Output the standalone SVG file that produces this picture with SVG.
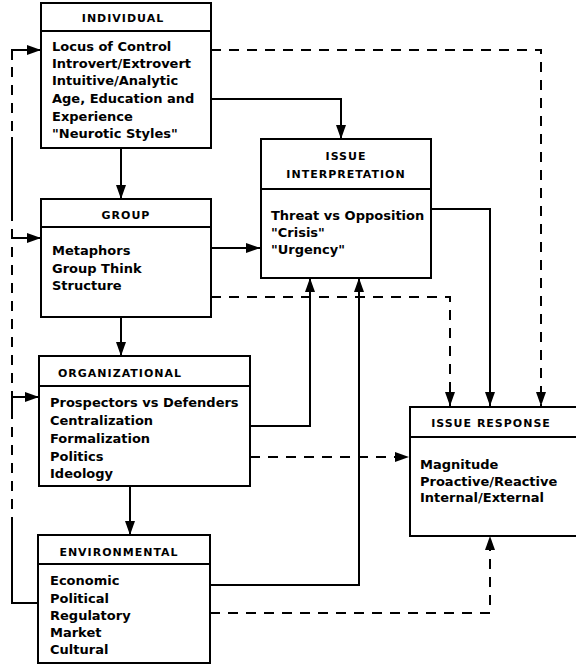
<svg xmlns="http://www.w3.org/2000/svg" width="576" height="665" viewBox="0 0 576 665">
<style>
.box{fill:#fff;stroke:#000;stroke-width:2}
.div{stroke:#000;stroke-width:2}
.hd{font-family:"DejaVu Sans",sans-serif;font-weight:bold;font-size:11px;letter-spacing:1px;text-anchor:middle;fill:#000}
.tx{font-family:"DejaVu Sans",sans-serif;font-weight:bold;font-size:13px;letter-spacing:0px;fill:#000}
.ln{fill:none;stroke:#000;stroke-width:2}
.dash{fill:none;stroke:#000;stroke-width:2;stroke-dasharray:10 8}
</style>
<defs>
<marker id="ah" markerUnits="userSpaceOnUse" markerWidth="14" markerHeight="10" refX="14" refY="5" orient="auto">
<path d="M0,0 L14,5 L0,10 z" fill="#000"/>
</marker>
</defs>
<rect width="576" height="665" fill="#fff"/>
<g id="connectors">
<path class="dash" d="M211,50 H541 V406" marker-end="url(#ah)"/>
<path class="ln" d="M211,99 H341 V139" marker-end="url(#ah)"/>
<path class="ln" d="M121,148 V199" marker-end="url(#ah)"/>
<path class="ln" d="M211,248 H260" marker-end="url(#ah)"/>
<path class="dash" d="M211,297 H450 V406" marker-end="url(#ah)"/>
<path class="ln" d="M431,209 H490 V406" marker-end="url(#ah)"/>
<path class="ln" d="M121,317 V356" marker-end="url(#ah)"/>
<path class="ln" d="M250,426 H310 V278" marker-end="url(#ah)"/>
<path class="dash" d="M250,457 H409" marker-end="url(#ah)"/>
<path class="ln" d="M130,486 V535" marker-end="url(#ah)"/>
<path class="ln" d="M210,585 H359 V278" marker-end="url(#ah)"/>
<path class="dash" d="M210,613 H490 V536" marker-end="url(#ah)"/>
<path class="ln" d="M38,603 H12 V527"/>
<path class="dash" d="M12,527 V62"/>
<path class="ln" d="M12,137 V220"/>
<path class="ln" d="M12,60 V50 H41" marker-end="url(#ah)"/>
<path class="ln" d="M12,230 V238 H41" marker-end="url(#ah)"/>
<path class="ln" d="M12,397 H39" marker-end="url(#ah)"/>
<path class="ln" d="M12,397 V410"/>
</g>
<g id="individual">
<rect class="box" x="41" y="3" width="170" height="145"/>
<line class="div" x1="41" y1="31" x2="211" y2="31"/>
<text class="hd" x="123" y="22">INDIVIDUAL</text>
<text class="tx" x="52" y="51">Locus of Control</text>
<text class="tx" x="52" y="68">Introvert/Extrovert</text>
<text class="tx" x="52" y="85">Intuitive/Analytic</text>
<text class="tx" x="52" y="103">Age, Education and</text>
<text class="tx" x="52" y="121">Experience</text>
<text class="tx" x="52" y="138">"Neurotic Styles"</text>
</g>
<g id="group">
<rect class="box" x="41" y="199" width="170" height="118"/>
<line class="div" x1="41" y1="227" x2="211" y2="227"/>
<text class="hd" x="126" y="219">GROUP</text>
<text class="tx" x="52" y="255">Metaphors</text>
<text class="tx" x="52" y="273">Group Think</text>
<text class="tx" x="52" y="290">Structure</text>
</g>
<g id="issue-interpretation">
<rect class="box" x="261" y="139" width="170" height="139"/>
<line class="div" x1="261" y1="189" x2="431" y2="189"/>
<text class="hd" x="346" y="160">ISSUE</text>
<text class="hd" x="346" y="178">INTERPRETATION</text>
<text class="tx" x="271" y="220">Threat vs Opposition</text>
<text class="tx" x="271" y="237">"Crisis"</text>
<text class="tx" x="271" y="254">"Urgency"</text>
</g>
<g id="organizational">
<rect class="box" x="39" y="356" width="211" height="130"/>
<line class="div" x1="39" y1="386" x2="250" y2="386"/>
<text class="hd" x="120" y="377">ORGANIZATIONAL</text>
<text class="tx" x="50" y="407">Prospectors vs Defenders</text>
<text class="tx" x="50" y="425">Centralization</text>
<text class="tx" x="50" y="443">Formalization</text>
<text class="tx" x="50" y="461">Politics</text>
<text class="tx" x="50" y="478">Ideology</text>
</g>
<g id="environmental">
<rect class="box" x="38" y="535" width="172" height="128"/>
<line class="div" x1="38" y1="564" x2="210" y2="564"/>
<text class="hd" x="119" y="556">ENVIRONMENTAL</text>
<text class="tx" x="50" y="585">Economic</text>
<text class="tx" x="50" y="603">Political</text>
<text class="tx" x="50" y="620">Regulatory</text>
<text class="tx" x="50" y="637">Market</text>
<text class="tx" x="50" y="654">Cultural</text>
</g>
<g id="issue-response">
<rect class="box" x="410" y="407" width="172" height="129"/>
<line class="div" x1="410" y1="437" x2="582" y2="437"/>
<text class="hd" x="491" y="427">ISSUE RESPONSE</text>
<text class="tx" x="420" y="469">Magnitude</text>
<text class="tx" x="420" y="486">Proactive/Reactive</text>
<text class="tx" x="420" y="502">Internal/External</text>
</g>
</svg>
